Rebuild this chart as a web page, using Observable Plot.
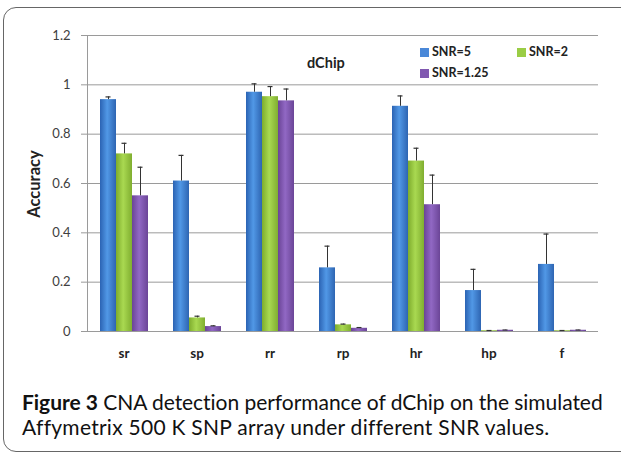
<!DOCTYPE html>
<html>
<head>
<meta charset="utf-8">
<script src="https://cdn.jsdelivr.net/npm/d3@7"></script>
<script src="https://cdn.jsdelivr.net/npm/@observablehq/plot@0.6"></script>
<style>
  html, body { margin: 0; padding: 0; background: #fff; overflow: hidden; }
  #wrap { position: relative; width: 621px; height: 454px; font-family: Lato, sans-serif; }
  #frame { position: absolute; left: 3px; top: 7px; width: 640px; height: 445px;
           border: 1px solid #666; border-radius: 13px; box-sizing: border-box; }
  #chart { position: absolute; left: 0; top: 0; }
  .lab { position: absolute; font-weight: bold; color: #222; white-space: nowrap; }
  .leg { position: absolute; font-weight: bold; font-size: 12.5px; color: #222; white-space: nowrap; line-height: 14px; }
  .sw { display: inline-block; width: 9px; height: 9px; margin-right: 3px; vertical-align: -1px; }
  #ylab { position: absolute; left: 34px; top: 184px; transform: translate(-50%, -50%) rotate(-90deg);
          font-weight: bold; font-size: 16.5px; color: #222; white-space: nowrap; }
  #caption { position: absolute; left: 22px; top: 389px; font-family: Lato, sans-serif;
             font-size: 21px; line-height: 25px; color: #111; }
  #caption span { white-space: nowrap; display: inline-block; }
</style>
</head>
<body>
<div id="wrap">
  <div id="frame"></div>
  <div id="chart"></div>
  <div class="lab" style="left:307px; top:54px; font-size:14.5px;">dChip</div>
  <div class="leg" style="left:420px; top:45px;"><span class="sw" style="background:#4a88d8"></span>SNR=5</div>
  <div class="leg" style="left:517px; top:45px;"><span class="sw" style="background:#9acd45"></span>SNR=2</div>
  <div class="leg" style="left:420px; top:66px;"><span class="sw" style="background:#8058b0"></span>SNR=1.25</div>
  <div id="ylab">Accuracy</div>
  <div id="caption"><span id="cap1"><b>Figure 3</b> CNA detection performance of dChip on the simulated</span><br><span id="cap2">Affymetrix 500 K SNP array under different SNR values.</span></div>
</div>
<script>
const categories = ["sr", "sp", "rr", "rp", "hr", "hp", "f"];
const series = ["SNR=5", "SNR=2", "SNR=1.25"];
const snr5    = [0.940, 0.610, 0.970, 0.258, 0.913, 0.166, 0.272];
const snr2    = [0.720, 0.055, 0.952, 0.027, 0.691, 0.003, 0.003];
const snr125  = [0.550, 0.020, 0.935, 0.013, 0.514, 0.005, 0.005];
const err5    = [0.011, 0.104, 0.034, 0.088, 0.042, 0.086, 0.123];
const err2    = [0.043, 0.007, 0.041, 0.003, 0.052, 0.001, 0.001];
const err125  = [0.116, 0.003, 0.048, 0.003, 0.120, 0.001, 0.001];
const yTicks  = [0, 0.2, 0.4, 0.6, 0.8, 1, 1.2];

const values = [snr5, snr2, snr125];
const errors = [err5, err2, err125];
const table = [];
categories.forEach((c, i) => series.forEach((s, j) => {
  table.push({cat: c, series: s, value: values[j][i], top: values[j][i] + errors[j][i]});
}));

const gradIds = ["url(#gBlue)", "url(#gGreen)", "url(#gPurple)"];

const chart = Plot.plot({
  width: 621,
  height: 380,
  marginLeft: 85,
  marginRight: 21,
  marginTop: 35,
  marginBottom: 49,
  style: {fontFamily: "Lato, sans-serif", background: "transparent"},
  fx: {domain: categories, padding: 0, label: null},
  x: {domain: series, paddingInner: 0, paddingOuter: 0.71, axis: null},
  y: {domain: [0, 1.2], label: null},
  color: {domain: series, range: gradIds},
  marks: [
    Plot.gridY(yTicks, {stroke: "#9a9a9a", strokeOpacity: 1, strokeWidth: 1}),
    Plot.ruleY([0], {stroke: "#9a9a9a", strokeWidth: 1}),
    Plot.frame({anchor: "left", stroke: "#9a9a9a", facetAnchor: "left"}),
    Plot.axisY(yTicks, {tickSize: 6, tickPadding: 11, stroke: "#9a9a9a", fill: "#404040", fontSize: 13,
      tickFormat: d => String(d), label: null}),
    Plot.axisFx({anchor: "bottom", tickSize: 0, tickPadding: 17, fontSize: 13.5, fontWeight: "bold", fill: "#222", label: null}),
    Plot.barY(table, {fx: "cat", x: "series", y: "value", fill: "series"}),
    Plot.ruleX(table, {fx: "cat", x: "series", y1: "value", y2: "top", stroke: "#333", strokeWidth: 1}),
    Plot.tickY(table, {fx: "cat", x: "series", y: "top", stroke: "#333", strokeWidth: 1.2, insetLeft: 5.5, insetRight: 5.5})
  ]
});

const svg = d3.select(chart);
const defs = svg.insert("defs", ":first-child");
const grads = [
  ["gBlue",   ["#2b63b3", "#5198e6", "#2e65b2"]],
  ["gGreen",  ["#7eac2d", "#a9d951", "#80ae30"]],
  ["gPurple", ["#6a4496", "#9168c4", "#6b4597"]]
];
grads.forEach(([id, cols]) => {
  const g = defs.append("linearGradient").attr("id", id).attr("x1", "0").attr("x2", "1").attr("y1", "0").attr("y2", "0");
  g.append("stop").attr("offset", "0%").attr("stop-color", cols[0]);
  g.append("stop").attr("offset", "45%").attr("stop-color", cols[1]);
  g.append("stop").attr("offset", "100%").attr("stop-color", cols[2]);
});

document.getElementById("chart").appendChild(chart);

// fit caption lines to the reference's measured widths
function fit(id, target) {
  const el = document.getElementById(id);
  const n = el.textContent.length;
  const w = el.getBoundingClientRect().width;
  el.style.letterSpacing = ((target - w) / n) + "px";
}
fit("cap1", 581);
fit("cap2", 526);
</script>
</body>
</html>
